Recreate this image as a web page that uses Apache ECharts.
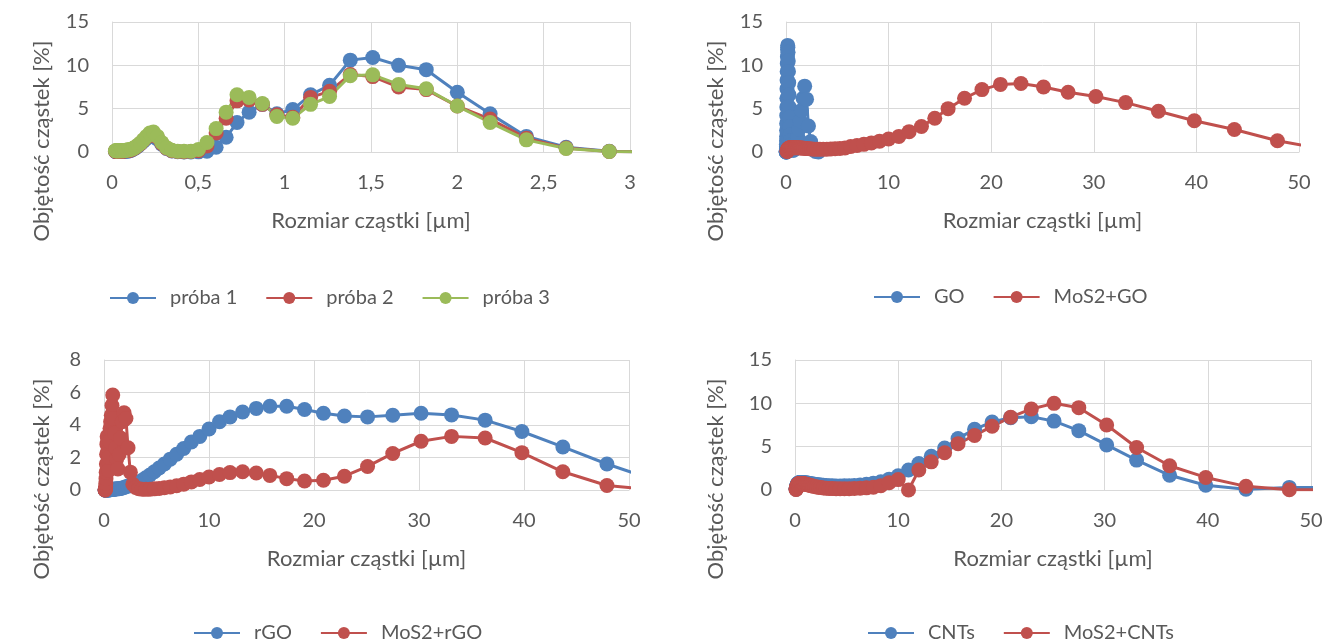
<!DOCTYPE html>
<html><head><meta charset="utf-8">
<script src="https://cdn.jsdelivr.net/npm/echarts@6/dist/echarts.min.js"></script>
<style>html,body{margin:0;padding:0;background:#fff}#c{width:1337px;height:642px}</style>
</head><body><div id="c"></div>
<script>
// Particle sizes [µm] – top panels (bin midpoints)
const sizesA = [0.0200,0.0219,0.0240,0.0263,0.0288,0.0316,0.0347,0.0380,0.0417,0.0457,0.0501,0.0550,0.0603,0.0661,0.0724,0.0794,0.0871,0.0955,
  0.105,0.115,0.126,0.138,0.151,0.166,0.182,0.200,0.219,0.240,
  0.263,0.288,0.316,0.347,0.380,0.417,0.457,0.501,0.550,0.603,
  0.661,0.724,0.794,0.871,0.955,1.047,1.15,1.26,1.38,1.51,
  1.66,1.82,2.00,2.19,2.40,2.63,2.88,3.16];
const proba1 = [0.05,0.05,0.05,0.05,0.05,0.05,0.05,0.05,0.05,0.05,0.05,0.05,0.05,0.06,0.07,0.08,0.1,0.12,
  0.15,0.25,0.35,0.5,0.7,0.95,1.25,1.55,1.8,1.85,
  1.5,0.9,0.4,0.12,0.03,0.01,0.01,0.02,0.1,0.55,
  1.7,3.4,4.6,5.5,4.4,4.9,6.6,7.7,10.6,10.9,
  10.0,9.5,6.9,4.4,1.8,0.55,0.08,0];
const proba2 = [0.1,0.1,0.1,0.1,0.1,0.1,0.1,0.1,0.1,0.1,0.1,0.1,0.1,0.11,0.12,0.14,0.16,0.18,
  0.2,0.3,0.4,0.55,0.75,1.0,1.35,1.7,2.0,2.1,
  1.7,1.0,0.45,0.15,0.05,0.03,0.05,0.15,0.7,2.2,
  3.9,5.9,6.0,5.5,4.3,4.0,6.3,7.0,8.95,8.7,
  7.5,7.2,5.3,3.8,1.6,0.45,0.05,0];
const proba3 = [0.15,0.15,0.15,0.15,0.15,0.15,0.15,0.15,0.15,0.15,0.15,0.15,0.15,0.15,0.17,0.2,0.22,0.25,
  0.3,0.35,0.45,0.6,0.8,1.05,1.4,1.8,2.2,2.3,
  1.8,1.1,0.5,0.2,0.1,0.08,0.1,0.3,1.1,2.7,
  4.6,6.6,6.3,5.6,4.1,3.9,5.5,6.4,8.8,8.9,
  7.8,7.3,5.3,3.4,1.4,0.4,0.05,0];
const goVals = [0,0,0,0,0.05,0.1,0.2,0.35,0.6,0.9,1.3,1.8,2.5,3.3,4.2,5.2,6.2,7.3,
  8.3,9.3,10.2,11.0,11.8,12.3,12.1,11.5,10.5,9.3,
  8.0,6.6,5.2,4.0,2.9,2.0,1.3,0.8,0.5,0.3,
  0.2,0.2,0.3,0.5,0.8,1.2,1.8,2.6,3.6,4.8,
  6.2,7.6,6.1,3.0,1.2,0.3,0.05,0];

// Particle sizes [µm] – panels with 0–50 µm range
const sizesB = [0.100,0.110,0.120,0.132,0.145,0.158,0.174,0.191,0.209,0.229,
  0.251,0.275,0.302,0.331,0.363,0.398,0.437,0.479,0.525,0.575,
  0.631,0.692,0.759,0.832,0.912,1.00,1.10,1.20,1.32,1.45,
  1.58,1.74,1.91,2.09,2.29,2.51,2.75,3.02,3.31,3.63,
  3.98,4.37,4.79,5.25,5.75,6.31,6.92,7.59,8.32,9.12,
  10.0,11.0,12.0,13.2,14.5,15.8,17.4,19.1,20.9,22.9,
  25.1,27.5,30.2,33.1,36.3,39.8,43.7,47.9,52.5];
const mos2go = [0.05,0.08,0.12,0.16,0.2,0.24,0.28,0.32,0.35,0.38,
  0.4,0.42,0.44,0.46,0.48,0.5,0.5,0.5,0.5,0.5,
  0.5,0.5,0.5,0.5,0.5,0.5,0.5,0.49,0.48,0.47,
  0.45,0.43,0.41,0.39,0.37,0.35,0.33,0.32,0.31,0.31,
  0.32,0.34,0.37,0.41,0.46,0.63,0.75,0.88,1.05,1.25,
  1.5,1.8,2.35,2.95,3.9,5.0,6.2,7.2,7.8,7.9,
  7.5,6.9,6.4,5.7,4.7,3.6,2.6,1.3,0.3];
const rgo = [0,0,0,0,0,0,0,0,0,0,
  0,0,0,0,0.01,0.01,0.01,0.01,0.02,0.02,
  0.02,0.03,0.03,0.04,0.04,0.05,0.06,0.07,0.08,0.08,
  0.1,0.13,0.16,0.2,0.24,0.29,0.35,0.42,0.48,0.6,
  0.75,0.92,1.12,1.35,1.6,1.9,2.2,2.55,2.95,3.3,
  3.75,4.2,4.5,4.8,5.02,5.15,5.15,4.95,4.72,4.55,
  4.5,4.6,4.72,4.62,4.3,3.6,2.65,1.6,0.6];
const mos2rgo = [0,0,0.02,0.05,0.1,0.2,0.4,0.7,1.1,1.6,
  2.2,2.8,3.3,3.0,2.4,1.8,1.2,2.0,3.0,3.8,
  4.2,4.6,5.2,5.85,4.4,3.5,2.6,1.9,1.3,2.2,
  3.2,4.2,4.75,4.4,2.6,1.1,0.35,0.15,0.08,0.05,
  0.04,0.05,0.07,0.1,0.14,0.19,0.26,0.36,0.5,0.65,
  0.8,0.95,1.07,1.12,1.05,0.9,0.7,0.55,0.6,0.85,
  1.45,2.25,3.0,3.3,3.2,2.3,1.12,0.28,0];
const cnts = [0.1,0.15,0.2,0.27,0.34,0.41,0.48,0.54,0.6,0.65,
  0.7,0.74,0.77,0.8,0.82,0.84,0.85,0.86,0.87,0.87,
  0.87,0.87,0.86,0.85,0.84,0.83,0.82,0.8,0.78,0.76,
  0.73,0.7,0.67,0.64,0.61,0.58,0.55,0.52,0.5,0.48,
  0.47,0.47,0.48,0.5,0.53,0.58,0.66,0.78,0.96,1.25,
  1.65,2.3,3.05,3.9,4.85,5.95,7.0,7.85,8.35,8.45,
  7.95,6.85,5.2,3.45,1.7,0.55,0.08,0.3,0.25];
const mos2cnts = [0.05,0.1,0.15,0.2,0.26,0.32,0.38,0.44,0.5,0.55,
  0.6,0.64,0.68,0.7,0.72,0.74,0.75,0.76,0.76,0.76,
  0.76,0.75,0.74,0.72,0.7,0.68,0.65,0.62,0.58,0.54,
  0.5,0.45,0.4,0.36,0.32,0.28,0.24,0.21,0.18,0.16,
  0.15,0.14,0.14,0.15,0.17,0.2,0.25,0.33,0.5,0.85,
  1.2,0.0,2.3,3.25,4.3,5.35,6.3,7.35,8.4,9.35,
  10.0,9.5,7.5,4.9,2.8,1.45,0.42,0.03,0];

const yTitle = 'Objętość cząstek [%]';
const xTitle = 'Rozmiar cząstki [µm]';
const names = {p1:'próba 1', p2:'próba 2', p3:'próba 3', go:'GO', mgo:'MoS2+GO', rgo:'rGO', mrgo:'MoS2+rGO', cnt:'CNTs', mcnt:'MoS2+CNTs'};

const BLUE = '#4F81BD', RED = '#C0504D', GREEN = '#9BBB59';
const FONT = 'Lato';
const TXT = '#595959';
const GRID = '#D9D9D9';

function pairs(xs, ys){ return xs.map((x,i)=>[x, ys[i]]); }
function xAx(idx, max, interval){
  return {gridIndex: idx, type:'value', min:0, max:max, interval:interval,
    name: xTitle, nameLocation:'middle', nameGap:58,
    nameTextStyle:{fontFamily:FONT, fontSize:22, color:TXT},
    axisLine:{show:true, onZero:false, lineStyle:{color:GRID, width:1}},
    axisTick:{show:false},
    splitLine:{show:true, lineStyle:{color:GRID, width:1}},
    axisLabel:{fontFamily:FONT, fontSize:20, color:TXT, margin:21, formatter: v=>String(v).replace('.',',')}};
}
function yAx(idx, max, interval){
  return {gridIndex: idx, type:'value', min:0, max:max, interval:interval,
    axisLine:{show:true, lineStyle:{color:GRID, width:1}},
    axisTick:{show:false},
    splitLine:{show:true, lineStyle:{color:GRID, width:1}},
    axisLabel:{fontFamily:FONT, fontSize:20, color:TXT, margin:23}};
}
function ser(name, idx, xs, ys, color){
  return {name:name, type:'line', xAxisIndex:idx, yAxisIndex:idx, data:pairs(xs, ys),
    symbol:'circle', symbolSize:15, showSymbol:true, clip:true,
    lineStyle:{color:color, width:3}, itemStyle:{color:color}, animation:false};
}
function leg(data, left, top){
  return {data:data, left:left, top:top, itemWidth:46, itemHeight:15, itemGap:28,
    textStyle:{fontFamily:FONT, fontSize:20, color:TXT, padding:[0,0,0,9]}};
}
function yTitleText(x, y){
  return {type:'text', rotation:Math.PI/2, x:x, y:y,
    style:{text:yTitle, fontFamily:FONT, fontSize:22, fill:TXT, align:'center', verticalAlign:'middle'}};
}

const chart = echarts.init(document.getElementById('c'), null, {renderer:'canvas'});
chart.setOption({
  animation:false,
  backgroundColor:'#ffffff',
  grid:[
    {left:112, top:22, width:518, height:130},
    {left:786, top:22, width:513, height:130},
    {left:104, top:360, width:525, height:130},
    {left:795, top:360, width:516, height:130}
  ],
  xAxis:[xAx(0,3,0.5), xAx(1,50,10), xAx(2,50,10), xAx(3,50,10)],
  yAxis:[yAx(0,15,5), yAx(1,15,5), yAx(2,8,2), yAx(3,15,5)],
  legend:[
    leg([names.p1, names.p2, names.p3], 104, 283),
    leg([names.go, names.mgo], 868, 282),
    leg([names.rgo, names.mrgo], 188, 618),
    leg([names.cnt, names.mcnt], 862, 618)
  ],
  graphic:[yTitleText(42,141), yTitleText(716,141), yTitleText(42,479), yTitleText(716,479)],
  series:[
    ser(names.p1,0,sizesA,proba1,BLUE),
    ser(names.p2,0,sizesA,proba2,RED),
    ser(names.p3,0,sizesA,proba3,GREEN),
    ser(names.go,1,sizesA,goVals,BLUE),
    ser(names.mgo,1,sizesB,mos2go,RED),
    ser(names.rgo,2,sizesB,rgo,BLUE),
    ser(names.mrgo,2,sizesB,mos2rgo,RED),
    ser(names.cnt,3,sizesB,cnts,BLUE),
    ser(names.mcnt,3,sizesB,mos2cnts,RED)
  ]
});
</script></body></html>
